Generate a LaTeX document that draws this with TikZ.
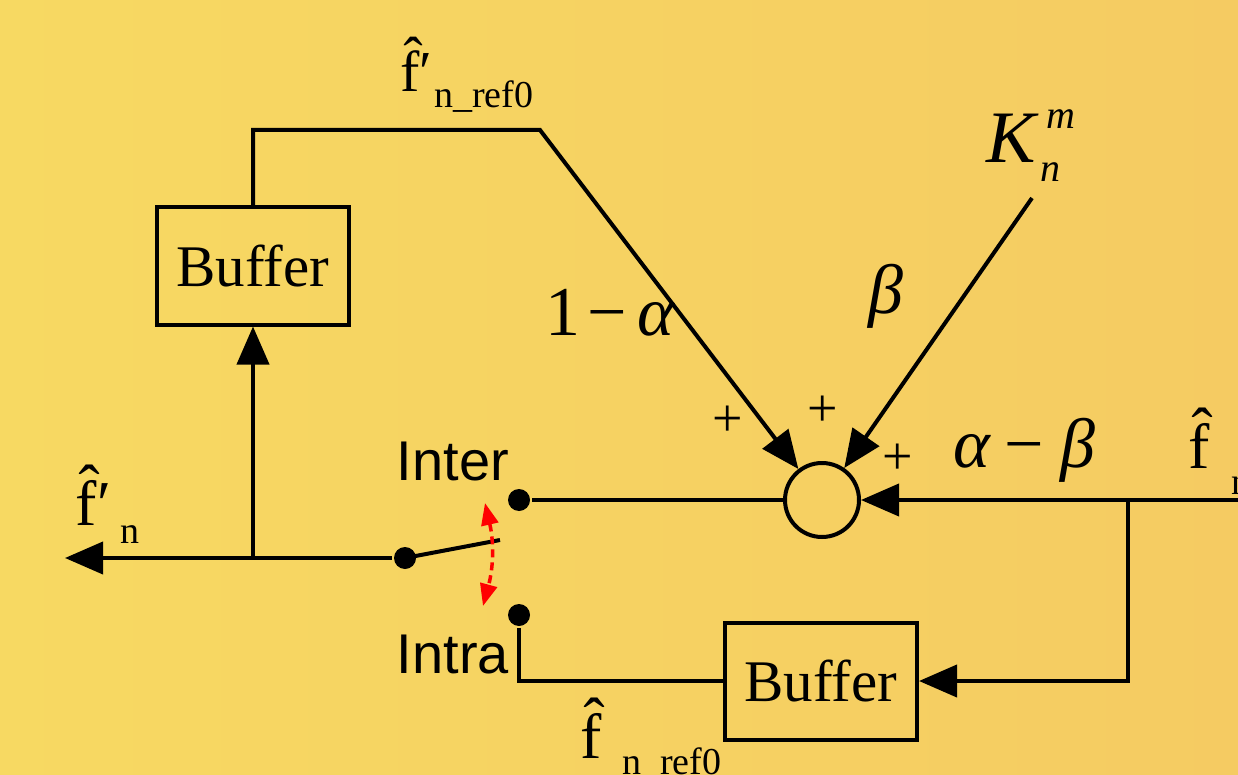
\documentclass[tikz,border=0pt]{standalone}
\usepackage{fontspec}
\setmainfont{Liberation Serif}
\setsansfont{Liberation Sans}
\usetikzlibrary{arrows.meta}
\definecolor{bgL}{HTML}{F7D962}
\definecolor{bgR}{HTML}{F5CB62}
\begin{document}
\begin{tikzpicture}[x=1pt,y=-1pt, line width=4pt,
  tip/.style={-{Triangle[length=38pt,width=32pt]}},
  box/.style={draw, line width=4pt, minimum width=192pt, minimum height=117pt, inner sep=0pt, font=\fontsize{59}{60}\selectfont},
  dot/.style={circle, fill, inner sep=0pt, minimum size=22pt},
  lbl/.style={inner sep=0pt, anchor=base west},
  big/.style={lbl, font=\fontsize{64}{64}\selectfont},
  bigs/.style={lbl, font=\fontsize{58}{60}\selectfont},
  sub/.style={lbl, font=\fontsize{38}{40}\selectfont},
  mth/.style={lbl, font=\fontsize{70}{72}\selectfont},
  msub/.style={lbl, font=\itshape\fontsize{40}{40}\selectfont},
  sf/.style={inner sep=0pt, font=\sffamily\fontsize{56}{60}\selectfont},
  pl/.style={inner sep=0pt, font=\fontsize{54}{54}\selectfont}]
\useasboundingbox (0,0) rectangle (1238,775);
\fill[left color=bgL, right color=bgR] (0,0) rectangle (1238,775);
\clip (0,0) rectangle (1238,775);
% blocks
\node[box] (b1) at (253,266) {Buffer};
\node[box] (b2) at (821,681) {Buffer};
\node[circle, draw, minimum size=74pt, inner sep=0pt] (sum) at (822,500) {};
\node[dot] (pv) at (405,558) {};
\node[dot] (ci) at (519,500) {};
\node[dot] (ca) at (519,615) {};
% coordinates
\coordinate (out) at (65,558);
\coordinate (j) at (253,558);
\coordinate (tl) at (253,130);
\coordinate (tr) at (540,130);
\coordinate (k) at (1032,198);
\coordinate (in) at (1250,500);
\coordinate (br) at (1128,500);
\coordinate (lev) at (500,540);
\coordinate (ra) at (485,503);
\coordinate (rb) at (483,606);
% connectors
\draw[tip] (pv) -- (out);
\draw[tip] (j) -- (b1.south);
\draw[tip] (b1.north) -- (tl) -- (tr) -- (sum);
\draw[tip] (k) -- (sum);
\draw[tip] (in) -- (sum);
\draw[tip] (br) |- (b2.east);
\draw (b2.west) -| (ca);
\draw (ci) -- (sum);
\draw (pv.center) -- (lev);
\draw[red, dashed, line width=3.5pt, dash pattern=on 8pt off 5pt,
  {Triangle[length=22pt,width=17pt]}-{Triangle[length=22pt,width=17pt]}]
  (ra) to[bend left=14] (rb);
% labels
\node[sf] (linter) at (453,462) {Inter};
\node[sf] (lintra) at (453,655) {Intra};
\node[mth] (la) at (543,335) {1\kern8pt−\kern10pt\textit{α}};
\node[mth] (lb) at (866,313) {\textit{β}};
\node[mth, font=\itshape\fontsize{74}{74}\selectfont] (lk) at (984,163) {K};
\node[msub] (lkm) at (1044,129) {m};
\node[msub] (lkn) at (1038,182) {n};
\node[mth] (lab) at (951,467) {\textit{α}\kern14pt−\kern16pt\textit{β}};
\node[pl] (p1) at (728,421) {+};
\node[pl] (p2) at (823,411) {+};
\node[pl] (p3) at (898,459) {+};
% f labels
\node[bigs] (ft) at (398,92) {\^{f}};
\node[bigs] (ftp) at (417,92) {′};
\node[sub] (st) at (432,108) {n\_ref0};
\node[big] (fl) at (73,525) {\^{f}};
\node[big] (flp) at (95,525) {′};
\node[sub] (sl) at (118,543) {n};
\node[big] (fb) at (578,758) {\^{f}};
\node[sub] (sb) at (620,774) {n\_ref0};
\node[big] (fr) at (1186,468) {\^{f}};
\node[sub] (sr) at (1229,494) {n};
\end{tikzpicture}
\end{document}
